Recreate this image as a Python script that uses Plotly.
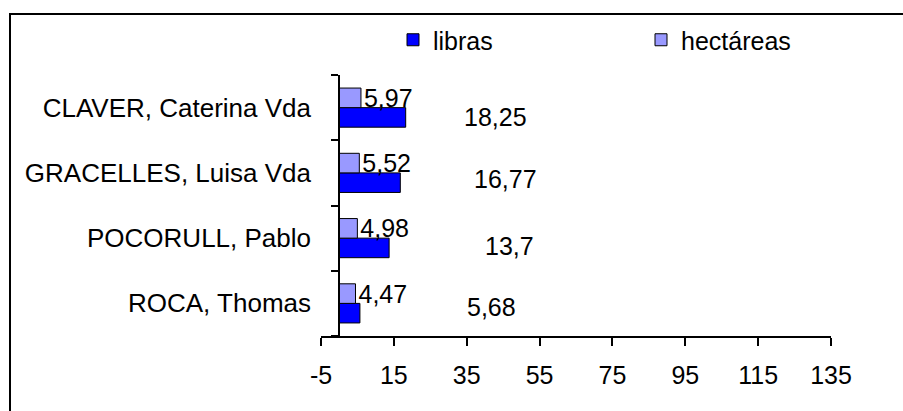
import plotly.graph_objects as go

# Owners, listed bottom to top
owners = ["ROCA, Thomas", "POCORULL, Pablo", "GRACELLES, Luisa Vda", "CLAVER, Caterina Vda"]
libras = [5.68, 13.7, 16.77, 18.25]
hectareas = [4.47, 4.98, 5.52, 5.97]
x_ticks = [-5, 15, 35, 55, 75, 95, 115, 135]

# pixel offsets of the libras value labels from the end of each bar
libras_label_dx = [132, 120, 105, 90]
libras_label_dy = [-4, -8, -6, -9]


def fmt(v):
    return f"{v:g}".replace(".", ",")


FONT = "Arial, Liberation Sans, sans-serif"
FS = 25
W, H = 903, 411
L, R, T, B = 321, 72, 75, 75
pw, ph = W - L - R, H - T - B

fig = go.Figure()
fig.add_trace(go.Bar(
    y=owners, x=libras, orientation="h", name="libras",
    marker=dict(color="#0000FF", line=dict(color="black", width=1)),
))
fig.add_trace(go.Bar(
    y=owners, x=hectareas, orientation="h", name="hectáreas",
    marker=dict(color="#9999FF", line=dict(color="black", width=1)),
    text=[fmt(v) for v in hectareas], textposition="outside",
    constraintext="none", cliponaxis=False,
    textfont=dict(family=FONT, size=FS, color="black"),
))

for o, v, dx, dy in zip(owners, libras, libras_label_dx, libras_label_dy):
    fig.add_annotation(
        x=v, y=o, text=fmt(v), showarrow=False,
        xanchor="center", yanchor="middle", xshift=dx, yshift=dy,
        font=dict(family=FONT, size=FS, color="black"),
    )

# outer chart frame (runs past the right and bottom edges)
fig.add_shape(
    type="rect", xref="paper", yref="paper",
    x0=(10 - L) / pw, x1=(W + 10 - L) / pw,
    y0=(T + ph - (H + 10)) / ph, y1=(T + ph - 14) / ph,
    line=dict(color="black", width=2), fillcolor="rgba(0,0,0,0)",
    layer="below",
)

fig.update_layout(
    width=W, height=H,
    margin=dict(l=L, r=R, t=T, b=B, pad=0, autoexpand=False),
    paper_bgcolor="white", plot_bgcolor="white",
    barmode="group", bargap=0.4, bargroupgap=0,
    font=dict(family=FONT, size=FS, color="black"),
    showlegend=True,
    legend=dict(
        orientation="h", x=(393 - L) / pw, xanchor="left",
        y=1 + 35 / ph, yanchor="middle",
        entrywidth=203, entrywidthmode="pixels",
        traceorder="normal", itemclick=False,
        font=dict(family=FONT, size=FS, color="black"),
        bgcolor="rgba(0,0,0,0)",
    ),
    xaxis=dict(
        range=[-5, 135], tickmode="array", tickvals=x_ticks,
        ticktext=[str(t) for t in x_ticks],
        showline=True, linecolor="black", linewidth=2,
        ticks="outside", ticklen=8, tickwidth=2, tickcolor="black",
        ticklabelstandoff=8,
        showgrid=False, zeroline=False,
    ),
    yaxis=dict(
        type="category", categoryorder="array", categoryarray=owners,
        anchor="free", position=5 / 140,
        showline=True, linecolor="black", linewidth=2,
        ticks="outside", ticklen=7, tickwidth=2, tickcolor="black",
        tickson="boundaries", ticklabelstandoff=22,
        tickfont=dict(family=FONT, size=26, color="black"),
        showgrid=False, zeroline=False,
    ),
)

fig.write_html("out.html")
